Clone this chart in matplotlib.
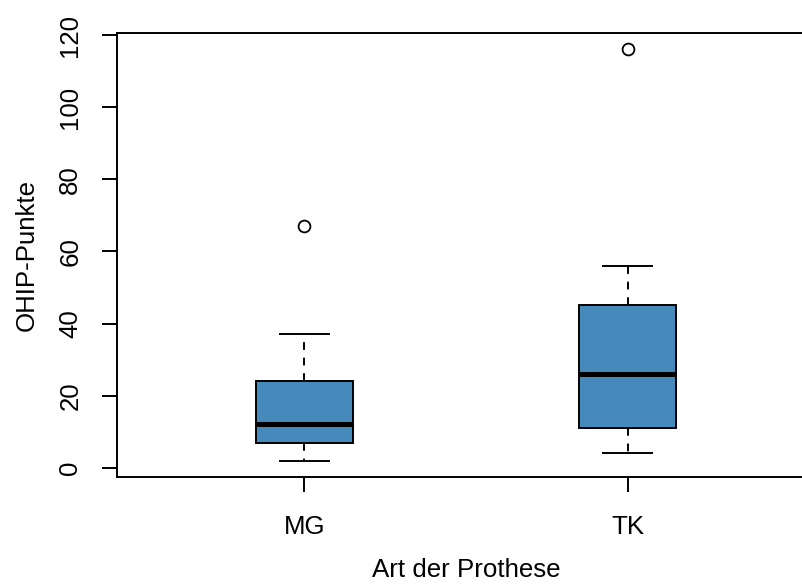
import matplotlib
matplotlib.use("Agg")
import matplotlib.pyplot as plt

plt.rcParams['font.family'] = ['Liberation Sans', 'DejaVu Sans']

# five-number summaries per prosthesis type
groups = ["MG", "TK"]
whisker_low = [2, 4]
q1 = [7, 11]
median = [12, 26]
q3 = [24, 45]
whisker_high = [37, 56]
outliers = [[67], [116]]

stats = []
for i, g in enumerate(groups):
    stats.append(dict(label=g, whislo=whisker_low[i], q1=q1[i], med=median[i],
                      q3=q3[i], whishi=whisker_high[i], fliers=outliers[i]))

fig = plt.figure(figsize=(8.03, 5.84), dpi=100)
ax = fig.add_axes([117 / 803, 1 - 477 / 584, (815 - 117) / 803, (477 - 33) / 584])

lw = 1.4
ax.bxp(stats, positions=[1, 2], widths=0.3, patch_artist=True,
       boxprops=dict(facecolor="#458ABB", edgecolor="black", linewidth=lw),
       medianprops=dict(color="black", linewidth=3.6, solid_capstyle="butt"),
       whiskerprops=dict(color="black", linewidth=lw, linestyle=(0, (4, 4))),
       capprops=dict(color="black", linewidth=lw),
       capwidths=0.15,
       flierprops=dict(marker="o", markersize=8.5, markerfacecolor="none",
                       markeredgecolor="black", markeredgewidth=1.3))

ax.set_xlim(0.42, 2.58)
ax.set_ylim(-2.56, 120.56)
ax.set_yticks(range(0, 121, 20))
ax.set_xticks([1, 2])
ax.set_xticklabels(groups)

for s in ax.spines.values():
    s.set_linewidth(lw)

ax.tick_params(axis="both", length=11, width=lw, labelsize=18.6, direction="out")
ax.tick_params(axis="x", pad=16)
ax.tick_params(axis="y", pad=14)
for lab in ax.get_yticklabels():
    lab.set_rotation(90)
    lab.set_va("center")

ax.set_xlabel("Art der Prothese", fontsize=18.6, labelpad=14)
ax.set_ylabel("OHIP-Punkte", fontsize=18.6, labelpad=14)

fig.savefig("out.png", dpi=100)
